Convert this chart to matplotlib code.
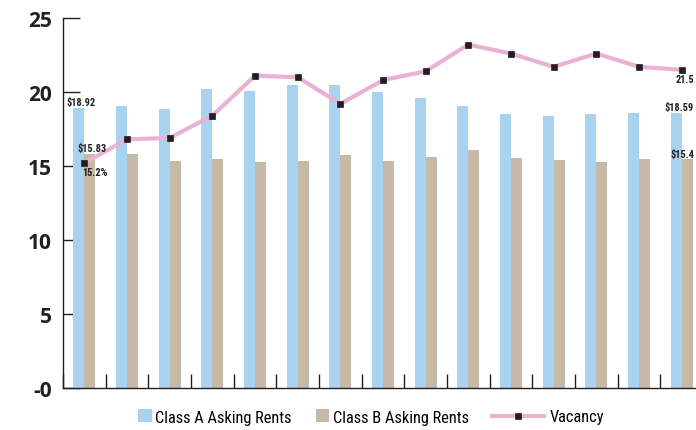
import numpy as np
import matplotlib.pyplot as plt

# values (15 periods)
class_a = [18.92, 19.05, 18.85, 20.2, 20.07, 20.47, 20.47, 20.0, 19.6, 19.05, 18.51, 18.38, 18.51, 18.58, 18.59]
class_b = [15.83, 15.83, 15.34, 15.47, 15.27, 15.34, 15.74, 15.34, 15.61, 16.08, 15.54, 15.41, 15.27, 15.47, 15.47]
vacancy = [15.2, 16.8, 16.9, 18.4, 21.1, 21.0, 19.2, 20.8, 21.4, 23.2, 22.6, 21.7, 22.6, 21.7, 21.5]
y_ticks = [0, 5, 10, 15, 20, 25]
y_tick_labels = ['-0', '5', '10', '15', '20', '25']

blue = '#a8d2ef'
tan = '#c5b9a8'
pink = '#e8b2d3'
dark = '#231f20'
narrow = ['Roboto Condensed', 'Liberation Sans Narrow', 'Roboto', 'DejaVu Sans']

fig = plt.figure(figsize=(6.96, 4.31), dpi=100)
ax = fig.add_axes([63 / 696, 42 / 431, 640 / 696, 370 / 431])

x = np.arange(len(class_a))
w = 0.26
bar_a = ax.bar(x - w / 2, class_a, w, color=blue, zorder=2)
bar_b = ax.bar(x + w / 2, class_b, w, color=tan, zorder=2)
vac_line, = ax.plot(x, vacancy, color=pink, lw=3, marker='s', ms=4.5, mfc=dark, mec=dark,
                    mew=0.5, zorder=3)

ax.set_xlim(-0.5, 14.5)
ax.set_ylim(0, 25)
ax.set_yticks(y_ticks)
ax.set_yticklabels(y_tick_labels, fontsize=15, fontweight='bold', family=['Open Sans', 'DejaVu Sans'])
ax.tick_params(axis='y', direction='in', length=12, width=1, pad=8, colors=dark)
ax.set_xticks(np.arange(-0.5, 14.6, 1))
ax.set_xticklabels([])
ax.tick_params(axis='x', direction='in', length=10, width=1, colors=dark)
for s in ['top', 'right']:
    ax.spines[s].set_visible(False)
for s in ['left', 'bottom']:
    ax.spines[s].set_linewidth(1)
    ax.spines[s].set_color(dark)

# data labels
lab = dict(fontsize=7.5, fontweight='bold', family=narrow, color=dark, zorder=5)
ax.text(-0.41, 18.98, '$18.92', ha='left', va='bottom', **lab)
ax.text(-0.15, 15.85, '$15.83', ha='left', va='bottom', **lab)
ax.text(-0.06, 14.9, '15.2%', ha='left', va='top', **lab)
# right-hand labels kept inside the figure edge
ax.text(14.27, 18.62, '$18.59', ha='right', va='bottom', **lab)
ax.text(14.3, 15.5, '$15.4', ha='right', va='bottom', **lab)
ax.text(14.3, 21.2, '21.5', ha='right', va='top', **lab)

# legend in two parts: square swatches, then a longer line sample
fs = 11.8
leg_y = 1 - 418 / 431
leg1 = fig.legend([bar_a, bar_b], ['Class A Asking Rents', 'Class B Asking Rents'],
                  loc='center left', bbox_to_anchor=(138 / 696, leg_y), ncol=2, frameon=False,
                  prop={'family': narrow, 'size': fs}, borderpad=0, borderaxespad=0,
                  handlelength=0.84, handleheight=0.84, handletextpad=0.22, columnspacing=1.45)
fig.legend([vac_line], ['Vacancy'], loc='center left', bbox_to_anchor=(492 / 696, leg_y),
           frameon=False, prop={'family': narrow, 'size': fs}, borderpad=0, borderaxespad=0,
           handlelength=3.2, handletextpad=0.3)

fig.savefig('out.png', dpi=100)
